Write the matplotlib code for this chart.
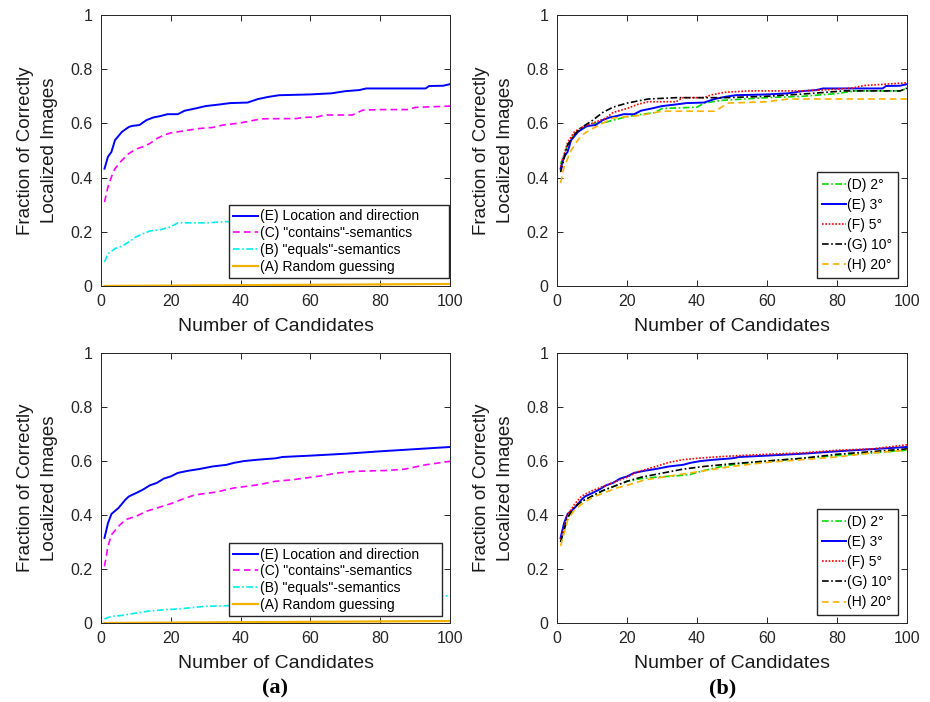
import matplotlib
matplotlib.use("Agg")
import matplotlib.pyplot as plt

plt.rcParams['font.family'] = ['Liberation Sans', 'DejaVu Sans']

# ---- top left: semantics comparison (set 1)
tl_E_x = [1, 2, 3, 4, 6, 8, 9, 11, 13, 15, 17, 19, 22, 24, 27, 30, 34, 37, 42, 45, 48, 51, 60, 66, 70, 74, 76, 93, 94, 98, 100]
tl_E_y = [0.433, 0.477, 0.495, 0.538, 0.569, 0.587, 0.591, 0.594, 0.612, 0.622, 0.627, 0.634, 0.634, 0.647, 0.655, 0.664,
          0.670, 0.675, 0.677, 0.690, 0.698, 0.704, 0.707, 0.711, 0.719, 0.723, 0.729, 0.729, 0.738, 0.739, 0.745]
tl_C_x = [1, 2, 3, 4, 6, 8, 10, 12, 14, 16, 18, 20, 22, 25, 28, 32, 35, 40, 44, 46, 56, 58, 62, 64, 72, 75, 80, 88, 90, 100]
tl_C_y = [0.310, 0.366, 0.403, 0.433, 0.464, 0.489, 0.505, 0.514, 0.526, 0.544, 0.557, 0.565, 0.569, 0.575, 0.581, 0.585,
          0.594, 0.602, 0.612, 0.617, 0.618, 0.622, 0.624, 0.631, 0.631, 0.649, 0.651, 0.651, 0.659, 0.664]
tl_B_x = [1, 2, 4, 6, 8, 10, 12, 14, 17, 20, 22, 30, 34, 38, 45, 55, 65, 72, 86, 100]
tl_B_y = [0.089, 0.119, 0.138, 0.147, 0.163, 0.181, 0.193, 0.203, 0.208, 0.218, 0.233, 0.233, 0.236, 0.239, 0.250, 0.265,
          0.280, 0.287, 0.295, 0.296]
rand_x = [1, 100]
rand_y = [0.0001, 0.0074]

# ---- bottom left: semantics comparison (set 2)
bl_E_x = [1, 2, 3, 5, 7, 8, 10, 12, 14, 16, 18, 20, 22, 25, 28, 32, 36, 38, 41, 45, 50, 52, 60, 70, 80, 90, 100]
bl_E_y = [0.315, 0.370, 0.404, 0.426, 0.457, 0.469, 0.481, 0.494, 0.510, 0.519, 0.535, 0.543, 0.556, 0.564, 0.570, 0.580,
          0.586, 0.593, 0.600, 0.605, 0.610, 0.615, 0.620, 0.627, 0.636, 0.644, 0.652]
bl_C_x = [1, 2, 3, 5, 7, 10, 13, 16, 20, 23, 27, 33, 38, 45, 50, 55, 62, 68, 73, 82, 87, 93, 100]
bl_C_y = [0.210, 0.284, 0.327, 0.358, 0.383, 0.395, 0.414, 0.426, 0.442, 0.457, 0.475, 0.485, 0.500, 0.512, 0.525, 0.531,
          0.543, 0.556, 0.562, 0.565, 0.570, 0.586, 0.599]
bl_B_x = [1, 3, 6, 10, 13, 18, 22, 30, 36, 50, 70, 90, 100]
bl_B_y = [0.015, 0.025, 0.028, 0.037, 0.043, 0.049, 0.052, 0.062, 0.064, 0.075, 0.088, 0.098, 0.101]

# ---- top right: angle thresholds (set 1)
tr_D_x = [1, 3, 5, 8, 10, 12, 14, 20, 25, 28, 30, 40, 42, 47, 60, 70, 80, 85, 98, 100]
tr_D_y = [0.45, 0.52, 0.56, 0.585, 0.60, 0.60, 0.605, 0.625, 0.635, 0.64, 0.655, 0.66, 0.675, 0.685, 0.695, 0.70, 0.71,
          0.72, 0.72, 0.73]
tr_F_x = [1, 3, 5, 7, 10, 12, 14, 16, 20, 23, 26, 34, 36, 42, 44, 48, 55, 70, 78, 84, 88, 94, 100]
tr_F_y = [0.44, 0.53, 0.57, 0.585, 0.60, 0.61, 0.62, 0.64, 0.655, 0.67, 0.68, 0.68, 0.695, 0.695, 0.705, 0.715, 0.72,
          0.72, 0.725, 0.73, 0.74, 0.745, 0.75]
tr_G_x = [1, 3, 5, 7, 10, 13, 16, 20, 22, 26, 34, 40, 48, 60, 66, 72, 82, 98, 100]
tr_G_y = [0.42, 0.52, 0.56, 0.585, 0.61, 0.64, 0.66, 0.675, 0.68, 0.69, 0.695, 0.695, 0.695, 0.70, 0.705, 0.71, 0.72,
          0.72, 0.73]
tr_H_x = [1, 2, 4, 6, 8, 10, 13, 16, 20, 24, 28, 30, 45, 47, 49, 60, 66, 100]
tr_H_y = [0.38, 0.44, 0.50, 0.54, 0.565, 0.58, 0.60, 0.62, 0.625, 0.63, 0.64, 0.645, 0.645, 0.66, 0.675, 0.68, 0.69, 0.69]

# ---- bottom right: angle thresholds (set 2)
br_D_x = [1, 3, 5, 7, 10, 13, 16, 20, 24, 28, 34, 38, 42, 47, 52, 60, 70, 80, 90, 100]
br_D_y = [0.30, 0.39, 0.43, 0.45, 0.47, 0.49, 0.505, 0.525, 0.535, 0.54, 0.545, 0.55, 0.565, 0.58, 0.59, 0.60, 0.61,
          0.62, 0.63, 0.64]
br_F_x = [1, 3, 5, 7, 10, 13, 16, 20, 23, 27, 32, 36, 40, 45, 52, 60, 70, 80, 90, 100]
br_F_y = [0.31, 0.40, 0.44, 0.47, 0.49, 0.505, 0.52, 0.54, 0.56, 0.575, 0.595, 0.605, 0.61, 0.615, 0.62, 0.625, 0.63,
          0.64, 0.645, 0.66]
br_G_x = [1, 3, 5, 7, 10, 13, 16, 20, 24, 30, 36, 42, 50, 60, 70, 80, 90, 100]
br_G_y = [0.30, 0.39, 0.43, 0.45, 0.47, 0.49, 0.505, 0.525, 0.54, 0.555, 0.57, 0.58, 0.59, 0.60, 0.61, 0.625, 0.635, 0.645]
br_H_x = [1, 3, 5, 7, 10, 13, 17, 20, 25, 30, 40, 50, 60, 70, 80, 90, 100]
br_H_y = [0.285, 0.38, 0.42, 0.44, 0.465, 0.48, 0.50, 0.51, 0.53, 0.54, 0.56, 0.58, 0.595, 0.605, 0.615, 0.63, 0.64]

left_labels = ['(E) Location and direction', '(C) "contains"-semantics', '(B) "equals"-semantics', '(A) Random guessing']
right_labels = ['(D) 2°', '(E) 3°', '(F) 5°', '(G) 10°', '(H) 20°']

fig = plt.figure(figsize=(9.3, 7.02), dpi=100)
ax_tl = fig.add_axes([0.1086, 0.5926, 0.3753, 0.386])
ax_tr = fig.add_axes([0.599, 0.5926, 0.3763, 0.386])
ax_bl = fig.add_axes([0.1086, 0.1125, 0.3753, 0.3846])
ax_br = fig.add_axes([0.599, 0.1125, 0.3763, 0.3846])

lw = 1.2
dashdot = (0, (4, 1.5, 1, 1.5))
dashed = (0, (4, 2.5))


def left_panel(ax, ex, ey, cx, cy, bx, by, box):
    ax.plot(ex, ey, color='#0000ff', lw=1.4, ls='-', label=left_labels[0])
    ax.plot(cx, cy, color='#ff00ff', lw=lw, ls=dashed, label=left_labels[1])
    ax.plot(bx, by, color='#00eeee', lw=lw, ls=dashdot, label=left_labels[2])
    ax.plot(rand_x, rand_y, color='#f0b000', lw=1.6, ls='-', label=left_labels[3])
    # matlab-like legend box: wider than its text
    ax.legend(loc='lower left', bbox_to_anchor=box, mode='expand', fontsize=10, frameon=True, fancybox=False,
              edgecolor='#262626', borderpad=0.3, labelspacing=0.2, handlelength=1.8, handletextpad=0.1,
              borderaxespad=0, framealpha=1)


def right_panel(ax, dx, dy, ex, ey, fx, fy, gx, gy, hx, hy):
    ax.plot(dx, dy, color='#00dd00', lw=lw, ls=dashdot, label=right_labels[0])
    ax.plot(ex, ey, color='#0000ff', lw=1.4, ls='-', label=right_labels[1])
    ax.plot(fx, fy, color='#ff0000', lw=lw, ls=(0, (1, 1)), label=right_labels[2])
    ax.plot(gx, gy, color='#000000', lw=lw, ls=dashdot, label=right_labels[3])
    ax.plot(hx, hy, color='#ffb000', lw=lw, ls=dashed, label=right_labels[4])
    ax.legend(loc='lower right', bbox_to_anchor=(0.974, 0.03), fontsize=10, frameon=True, fancybox=False,
              edgecolor='#262626', borderpad=0.4, labelspacing=0.44, handlelength=1.7, handletextpad=0.1,
              borderaxespad=0, framealpha=1)


left_panel(ax_tl, tl_E_x, tl_E_y, tl_C_x, tl_C_y, tl_B_x, tl_B_y, (0.367, 0.03, 0.630, 0.2))
left_panel(ax_bl, bl_E_x, bl_E_y, bl_C_x, bl_C_y, bl_B_x, bl_B_y, (0.367, 0.026, 0.610, 0.2))
right_panel(ax_tr, tr_D_x, tr_D_y, tl_E_x, tl_E_y, tr_F_x, tr_F_y, tr_G_x, tr_G_y, tr_H_x, tr_H_y)
right_panel(ax_br, br_D_x, br_D_y, bl_E_x, bl_E_y, br_F_x, br_F_y, br_G_x, br_G_y, br_H_x, br_H_y)

for ax in [ax_tl, ax_tr, ax_bl, ax_br]:
    ax.set_xlim(0, 100)
    ax.set_ylim(0, 1)
    ax.set_xticks([0, 20, 40, 60, 80, 100])
    ax.set_yticks([0, 0.2, 0.4, 0.6, 0.8, 1])
    ax.set_yticklabels(['0', '0.2', '0.4', '0.6', '0.8', '1'])
    ax.tick_params(direction='in', length=4, width=0.7, labelsize=11.5, colors='#262626',
                   top=True, right=True, pad=6)
    for s in ax.spines.values():
        s.set_color('#262626')
        s.set_linewidth(0.7)
    ax.set_xlabel('Number of Candidates', fontsize=14, color='#1a1a1a', labelpad=6)
    ax.set_ylabel('Fraction of Correctly\nLocalized Images', fontsize=13.5, color='#1a1a1a',
                  labelpad=9, linespacing=1.5)

fig.text(0.296, 0.012, '(a)', family='Liberation Serif', fontweight='bold', fontsize=16, ha='center')
fig.text(0.777, 0.012, '(b)', family='Liberation Serif', fontweight='bold', fontsize=16, ha='center')

fig.savefig('out.png', dpi=100)
